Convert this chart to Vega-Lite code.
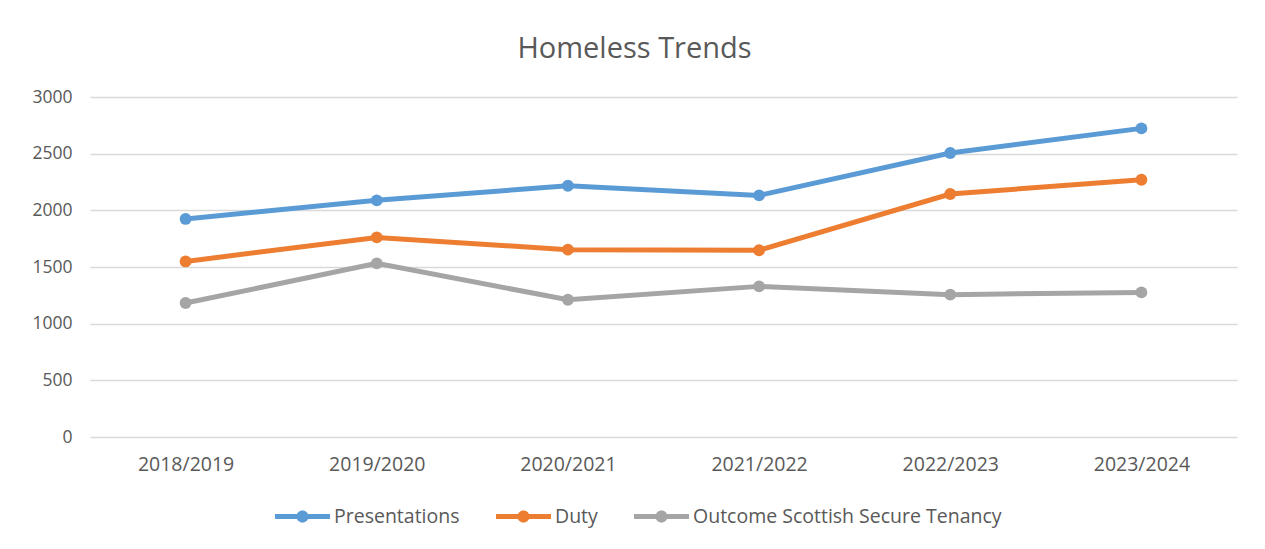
{
  "$schema": "https://vega.github.io/schema/vega-lite/v6.json",
  "autosize": "none",
  "width": 1147,
  "height": 340,
  "padding": {"left": 90, "top": 97, "right": 28, "bottom": 112},
  "background": "white",
  "title": {
    "text": "Homeless Trends",
    "font": "Open Sans",
    "fontSize": 29,
    "fontWeight": "normal",
    "color": "#595959",
    "anchor": "middle",
    "frame": "bounds",
    "offset": 24
  },
  "data": {
    "values": [
      {"year": "2018/2019", "series": "Presentations", "value": 1924},
      {"year": "2019/2020", "series": "Presentations", "value": 2088},
      {"year": "2020/2021", "series": "Presentations", "value": 2217},
      {"year": "2021/2022", "series": "Presentations", "value": 2132},
      {"year": "2022/2023", "series": "Presentations", "value": 2506},
      {"year": "2023/2024", "series": "Presentations", "value": 2723},
      {"year": "2018/2019", "series": "Duty", "value": 1549},
      {"year": "2019/2020", "series": "Duty", "value": 1761},
      {"year": "2020/2021", "series": "Duty", "value": 1653},
      {"year": "2021/2022", "series": "Duty", "value": 1648},
      {"year": "2022/2023", "series": "Duty", "value": 2144},
      {"year": "2023/2024", "series": "Duty", "value": 2270},
      {"year": "2018/2019", "series": "Outcome Scottish Secure Tenancy", "value": 1182},
      {"year": "2019/2020", "series": "Outcome Scottish Secure Tenancy", "value": 1532},
      {"year": "2020/2021", "series": "Outcome Scottish Secure Tenancy", "value": 1211},
      {"year": "2021/2022", "series": "Outcome Scottish Secure Tenancy", "value": 1329},
      {"year": "2022/2023", "series": "Outcome Scottish Secure Tenancy", "value": 1256},
      {"year": "2023/2024", "series": "Outcome Scottish Secure Tenancy", "value": 1276}
    ]
  },
  "mark": {"type": "line", "strokeWidth": 5, "point": {"filled": true, "size": 140, "opacity": 1}},
  "encoding": {
    "x": {
      "field": "year",
      "type": "ordinal",
      "scale": {"type": "point", "padding": 0.5},
      "axis": {
        "title": null,
        "labelAngle": 0,
        "domain": false,
        "ticks": false,
        "grid": false,
        "labelFont": "Open Sans",
        "labelFontSize": 19.5,
        "labelColor": "#595959",
        "labelPadding": 18
      }
    },
    "y": {
      "field": "value",
      "type": "quantitative",
      "scale": {"domain": [0, 3000], "nice": false},
      "axis": {
        "title": null,
        "values": [0, 500, 1000, 1500, 2000, 2500, 3000],
        "format": "d",
        "domain": false,
        "ticks": false,
        "grid": true,
        "gridColor": "#D9D9D9",
        "gridWidth": 1.5,
        "labelFont": "Open Sans",
        "labelFontSize": 17.5,
        "labelColor": "#595959",
        "labelPadding": 18
      }
    },
    "color": {
      "field": "series",
      "type": "nominal",
      "scale": {
        "domain": ["Presentations", "Duty", "Outcome Scottish Secure Tenancy"],
        "range": ["#5B9BD5", "#ED7D31", "#A5A5A5"]
      },
      "legend": {
        "title": null,
        "orient": "none",
        "legendX": 185,
        "legendY": 392,
        "direction": "horizontal",
        "symbolType": "M-1,-0.09H1V0.09H-1Z M-0.22,0A0.22,0.22 0 1,1 0.22,0A0.22,0.22 0 1,1 -0.22,0Z",
        "symbolSize": 3025,
        "symbolStrokeWidth": 0,
        "labelFont": "Open Sans",
        "labelFontSize": 19.5,
        "labelColor": "#595959",
        "labelOffset": 4,
        "labelLimit": 500,
        "columnPadding": 36,
        "encode": {
          "symbols": {"update": {"fill": {"scale": "color", "field": "value"}, "opacity": {"value": 1}}}
        }
      }
    }
  },
  "config": {
    "view": {"stroke": null}
  }
}
